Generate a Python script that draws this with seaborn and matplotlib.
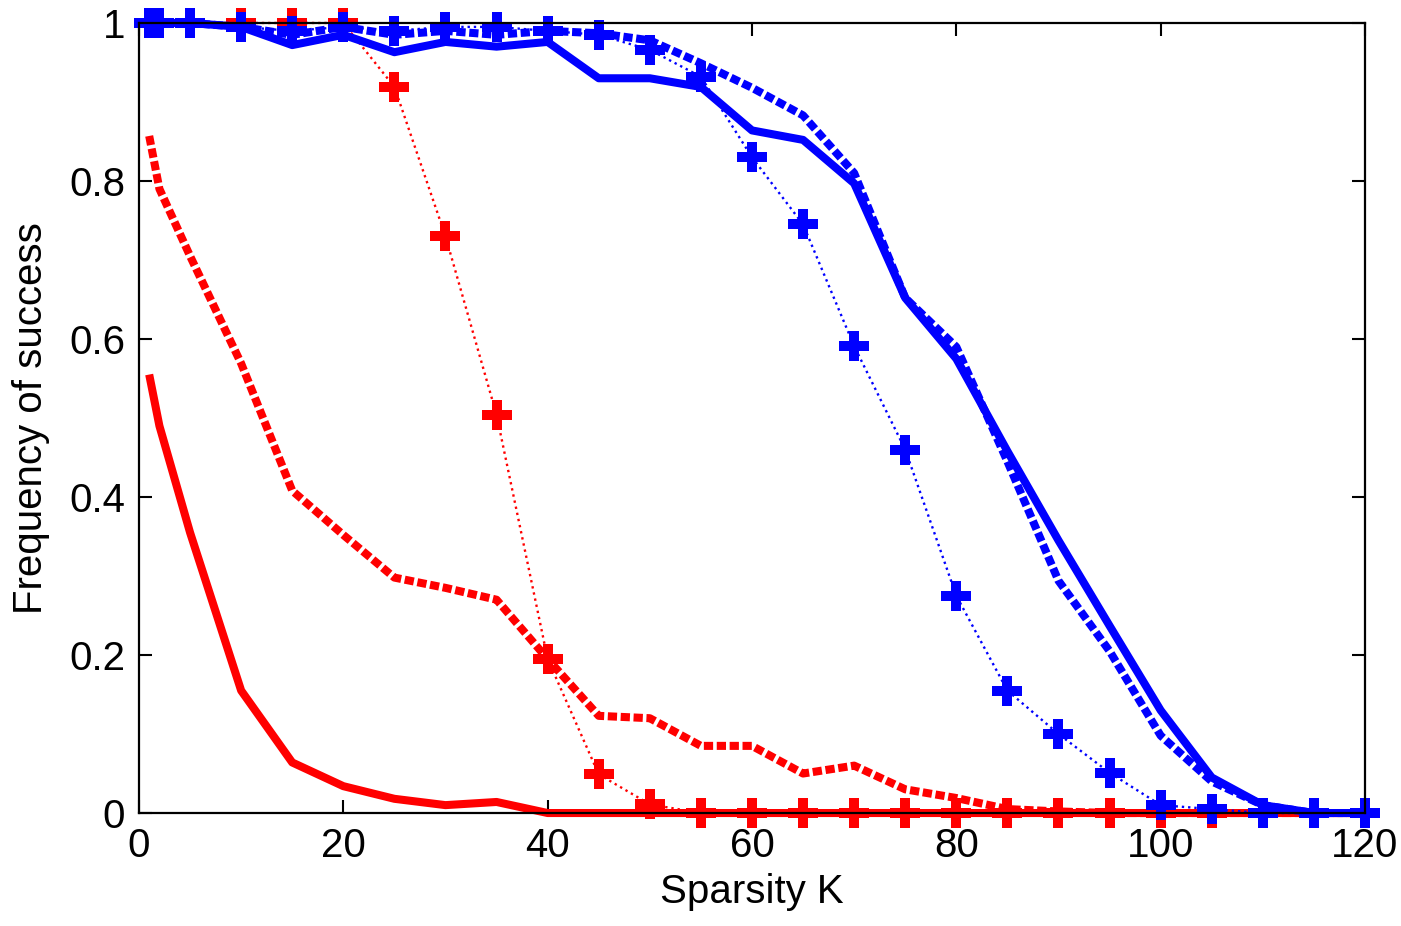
import numpy as np
import pandas as pd
import seaborn as sns
import matplotlib.pyplot as plt
from matplotlib.ticker import FuncFormatter

# sparsity levels
k = [1, 2, 5, 10, 15, 20, 25, 30, 35, 40, 45, 50, 55, 60, 65, 70,
     75, 80, 85, 90, 95, 100, 105, 110, 115, 120]

red_solid = [0.555, 0.49, 0.355, 0.155, 0.064, 0.034, 0.018, 0.010, 0.014, 0.0,
             0.0, 0.0, 0.0, 0.0, 0.0, 0.0, 0.0, 0.0, 0.0, 0.0, 0.0, 0.0, 0.0,
             0.0, 0.0, 0.0]
red_dashed = [0.857, 0.79, 0.705, 0.569, 0.408, 0.352, 0.298, 0.285, 0.27, 0.195,
              0.123, 0.12, 0.085, 0.085, 0.05, 0.06, 0.03, 0.019, 0.005, 0.002,
              0.0, 0.0, 0.0, 0.0, 0.0, 0.0]
red_dotted = [1.0, 1.0, 1.0, 1.0, 1.0, 1.0, 0.919, 0.73, 0.504, 0.195, 0.049,
              0.011, 0.0, 0.0, 0.0, 0.0, 0.0, 0.0, 0.0, 0.0, 0.0, 0.0, 0.0,
              0.0, 0.0, 0.0]
blue_solid = [1.0, 1.0, 1.0, 0.995, 0.972, 0.985, 0.963, 0.976, 0.97, 0.976,
              0.93, 0.93, 0.919, 0.864, 0.852, 0.797, 0.652, 0.575, 0.458,
              0.345, 0.237, 0.13, 0.045, 0.01, 0.0, 0.0]
blue_dashed = [1.0, 1.0, 1.0, 0.995, 0.985, 0.995, 0.985, 0.99, 0.985, 0.99,
               0.987, 0.978, 0.949, 0.918, 0.883, 0.81, 0.652, 0.59, 0.445,
               0.294, 0.205, 0.098, 0.04, 0.01, 0.0, 0.0]
blue_dotted = [1.0, 1.0, 1.0, 0.995, 0.99, 0.995, 0.99, 0.995, 0.995, 0.99,
               0.985, 0.966, 0.932, 0.83, 0.745, 0.591, 0.46, 0.275, 0.155,
               0.10, 0.051, 0.01, 0.005, 0.0, 0.0, 0.0]

sns.set_style("ticks")
plt.rcParams["font.family"] = ["Liberation Sans", "DejaVu Sans"]
plt.rcParams["text.color"] = "black"
plt.rcParams["axes.labelcolor"] = "black"

fig = plt.figure(figsize=(14.01, 9.26), dpi=100)
ax = fig.add_axes([0.0992, 0.122, 0.8751, 0.8532])

dash = (0, (1.15, 0.45))
series = [
    (red_solid, "red", "-", 5.8, None),
    (red_dashed, "red", dash, 5.8, None),
    (red_dotted, "red", ":", 1.7, "P"),
    (blue_solid, "blue", "-", 5.8, None),
    (blue_dashed, "blue", dash, 5.8, None),
    (blue_dotted, "blue", ":", 1.7, "P"),
]
for vals, col, ls, lw, mk in series:
    df = pd.DataFrame({"K": k, "freq": vals})
    kws = dict(color=col, linestyle=ls, lw=lw,
               solid_capstyle="butt", dash_capstyle="butt")
    if mk:
        kws.update(marker=mk, markersize=22, markeredgewidth=0)
    sns.lineplot(data=df, x="K", y="freq", ax=ax, **kws)

ax.set_xlim(0, 120)
ax.set_ylim(0, 1)
ax.set_xticks(np.arange(0, 121, 20))
ax.set_yticks(np.arange(0, 1.01, 0.2))
ax.yaxis.set_major_formatter(FuncFormatter(lambda v, p: f"{v:g}"))
ax.tick_params(direction="in", length=9.5, width=1.5, labelsize=29,
               top=True, right=True, pad=10, colors="black")
for sp in ax.spines.values():
    sp.set_linewidth(1.6)
    sp.set_color("black")
    sp.set_visible(True)
ax.set_xlabel("Sparsity K", fontsize=29, labelpad=6, color="black")
ax.set_ylabel("Frequency of success", fontsize=29, labelpad=14, color="black")
for ln in ax.lines:
    ln.set_clip_on(False)

fig.savefig("out.png", dpi=100)
